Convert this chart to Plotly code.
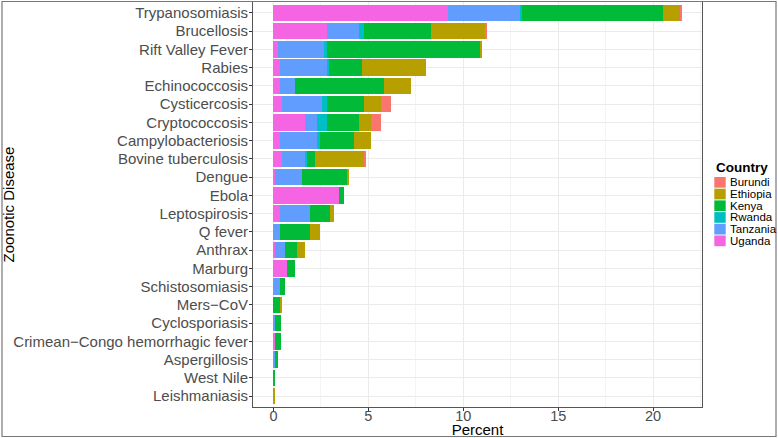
import plotly.graph_objects as go

diseases = ["Trypanosomiasis", "Brucellosis", "Rift Valley Fever", "Rabies", "Echinococcosis",
            "Cysticercosis", "Cryptococcosis", "Campylobacteriosis", "Bovine tuberculosis", "Dengue",
            "Ebola", "Leptospirosis", "Q fever", "Anthrax", "Marburg", "Schistosomiasis",
            "Mers\u2212CoV", "Cyclosporiasis", "Crimean\u2212Congo hemorrhagic fever", "Aspergillosis",
            "West Nile", "Leishmaniasis"]

uganda   = [9.18, 2.81, 0.22, 0.36, 0.36, 0.47, 1.65, 0.36, 0.47, 0.10, 3.46, 0.36, 0, 0.10, 0.71, 0, 0, 0, 0.10, 0, 0, 0]
tanzania = [3.80, 1.71, 2.45, 2.48, 0.76, 2.11, 0.66, 1.95, 1.18, 1.42, 0, 1.55, 0.36, 0.51, 0, 0.36, 0, 0.10, 0, 0.10, 0, 0]
rwanda   = [0.12, 0.26, 0.14, 0.11, 0, 0.23, 0.50, 0.13, 0.12, 0, 0, 0, 0, 0, 0, 0, 0, 0, 0, 0, 0, 0]
kenya    = [7.40, 3.52, 8.08, 1.71, 4.68, 1.97, 1.71, 1.83, 0.41, 2.35, 0.26, 1.06, 1.57, 0.65, 0.43, 0.25, 0.34, 0.28, 0.28, 0.14, 0.10, 0]
ethiopia = [0.92, 2.82, 0.11, 3.36, 1.45, 0.88, 0.63, 0.88, 2.64, 0.12, 0, 0.24, 0.51, 0.39, 0, 0, 0.13, 0, 0, 0, 0, 0.10]
burundi  = [0.12, 0.14, 0, 0, 0, 0.53, 0.51, 0, 0.08, 0, 0, 0, 0, 0, 0, 0, 0, 0, 0, 0, 0, 0]

countries = ["Burundi", "Ethiopia", "Kenya", "Rwanda", "Tanzania", "Uganda"]
colors = {"Burundi": "#F8766D", "Ethiopia": "#B79F00", "Kenya": "#00BA38",
          "Rwanda": "#00BFC4", "Tanzania": "#619CFF", "Uganda": "#F564E3"}
series = {"Burundi": burundi, "Ethiopia": ethiopia, "Kenya": kenya,
          "Rwanda": rwanda, "Tanzania": tanzania, "Uganda": uganda}

W, H = 778, 438
L, R, T, B = 253, 76, 2, 31
PW, PH = W - L - R, H - T - B

def px(x):
    return (x - L) / PW

def py(y):
    return (H - B - y) / PH

FONT = "Liberation Sans, Arial, Helvetica, sans-serif"

fig = go.Figure()
for c in reversed(countries):
    fig.add_trace(go.Bar(
        y=diseases, x=series[c], orientation="h", name=c,
        marker=dict(color=colors[c], line=dict(width=0)),
        showlegend=False,
    ))

fig.update_layout(
    width=W, height=H,
    margin=dict(l=L, r=R, t=T, b=B, autoexpand=False),
    paper_bgcolor="white", plot_bgcolor="white",
    barmode="stack", bargap=0.1,
    font=dict(family=FONT, color="#4D4D4D"),
)
fig.update_xaxes(
    range=[-1.075, 22.575], tickvals=[0, 5, 10, 15, 20],
    showgrid=True, gridcolor="#EBEBEB", gridwidth=1.1,
    minor=dict(tickvals=[2.5, 7.5, 12.5, 17.5, 22.5], showgrid=True, gridcolor="#F4F4F4", gridwidth=0.6),
    zeroline=False, showline=True, linecolor="#555555", linewidth=1, mirror=True,
    ticks="outside", ticklen=3, tickcolor="#333333",
    tickfont=dict(size=14.5, color="#4D4D4D"), ticklabelstandoff=-7,
    title=dict(text="Percent", font=dict(size=15, color="black"), standoff=1),
    automargin=False,
)
fig.update_yaxes(
    categoryorder="array", categoryarray=diseases,
    range=[len(diseases) - 0.4, -0.6],
    showgrid=True, gridcolor="#EBEBEB", gridwidth=1.1,
    zeroline=False, showline=True, linecolor="#555555", linewidth=1, mirror=True,
    ticks="outside", ticklen=3, tickcolor="#333333",
    tickfont=dict(size=15, color="#4D4D4D"), ticklabelstandoff=-2,
    title=dict(text="Zoonotic Disease", font=dict(size=15, color="black"), standoff=0),
    automargin=False,
)

# outer frame
fig.add_shape(type="rect", xref="paper", yref="paper",
              x0=px(2), x1=px(776), y0=py(436.5), y1=py(1.5),
              line=dict(color="#777777", width=1.2), fillcolor="rgba(0,0,0,0)", layer="above")

# legend
fig.add_annotation(xref="paper", yref="paper", x=px(714), y=py(167), xanchor="left", yanchor="middle",
                   text="<b>Country</b>", showarrow=False, font=dict(size=13.5, color="black", family=FONT))
top0, step = 176.5, 11.7
for i, c in enumerate(countries):
    y0 = top0 + i * step
    fig.add_shape(type="rect", xref="paper", yref="paper",
                  x0=px(714.3), x1=px(725.7), y0=py(y0 + step - 0.5), y1=py(y0 + 0.5),
                  line=dict(width=0), fillcolor=colors[c])
    fig.add_annotation(xref="paper", yref="paper", x=px(727.5), y=py(y0 + step / 2), xanchor="left",
                       yanchor="middle", text=c, showarrow=False,
                       font=dict(size=11.5, color="black", family=FONT))

fig.write_html("out.html", config={"displayModeBar": False},
               post_script="document.body.style.margin='0';document.body.style.overflow='hidden';")
